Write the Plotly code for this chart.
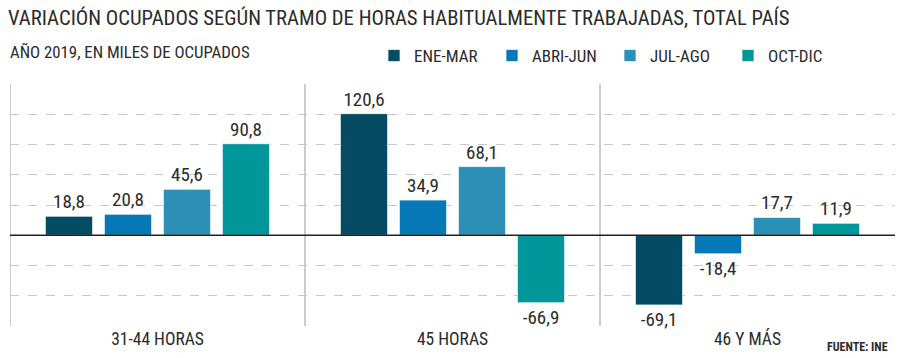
import plotly.graph_objects as go

categories = ["31-44 HORAS", "45 HORAS", "46 Y MÁS"]
series_names = ["ENE-MAR", "ABRI-JUN", "JUL-AGO", "OCT-DIC"]
ene_mar = [18.8, 120.6, -69.1]
abri_jun = [20.8, 34.9, -18.4]
jul_ago = [45.6, 68.1, 17.7]
oct_dic = [90.8, -66.9, 11.9]
colors = ["#034c63", "#0678b6", "#2b8fb6", "#01979a"]

FONT = "Roboto Condensed, Liberation Sans Narrow, Roboto, sans-serif"
TXT = "#2b2b2b"

W, H = 900, 358
L, R, T, B = 10, 5, 84, 32
PW, PH = W - L - R, H - T - B

def px_x(x):
    return (x - L) / PW

def px_y(y):
    return (H - B - y) / PH

fig = go.Figure()
for name, vals, col in zip(series_names, [ene_mar, abri_jun, jul_ago, oct_dic], colors):
    fig.add_trace(go.Bar(
        x=categories, y=vals, name=name,
        marker=dict(color=col, line=dict(color="rgba(255,255,255,0.7)", width=1)),
        text=[f"{v:.1f}".replace(".", ",") for v in vals],
        textposition="outside", cliponaxis=False,
        textfont=dict(family=FONT, size=19, color=TXT),
    ))

shapes = []
for xv in [-0.5, 0.5, 1.5]:
    shapes.append(dict(type="line", xref="x", yref="y", x0=xv, x1=xv, y0=-90, y1=150,
                       line=dict(color="#a8a8a8", width=1.2), layer="below"))
shapes.append(dict(type="line", xref="paper", yref="y", x0=0, x1=1, y0=0, y1=0,
                   line=dict(color="#222222", width=1.5)))

fig.update_layout(
    width=W, height=H,
    margin=dict(l=L, r=R, t=T, b=B, autoexpand=False),
    paper_bgcolor="white", plot_bgcolor="white",
    barmode="group", bargap=0.2, bargroupgap=0.2,
    font=dict(family=FONT, color=TXT),
    title=dict(text="VARIACIÓN OCUPADOS SEGÚN TRAMO DE HORAS HABITUALMENTE TRABAJADAS, TOTAL PAÍS",
               xref="container", yref="container", x=8 / W, xanchor="left",
               y=1 - 18 / H, yanchor="middle",
               font=dict(family=FONT, size=20.7, color=TXT)),
    showlegend=True,
    legend=dict(orientation="h", x=px_x(374), xanchor="left",
                y=px_y(56), yanchor="middle",
                entrywidth=73, entrywidthmode="pixels",
                font=dict(family=FONT, size=17, color=TXT),
                bgcolor="rgba(0,0,0,0)", itemclick=False, traceorder="normal"),
    xaxis=dict(showgrid=False, showline=False, ticks="", range=[-0.5, 2.5],
               tickfont=dict(family=FONT, size=17.5, color=TXT)),
    yaxis=dict(range=[-90, 150], dtick=30, showgrid=True, gridcolor="#c8c8c8",
               griddash="dash", gridwidth=1, showticklabels=False, zeroline=False,
               showline=False),
    shapes=shapes,
    annotations=[
        dict(text="AÑO 2019, EN MILES DE OCUPADOS", xref="paper", yref="paper",
             x=px_x(8), xanchor="left", y=px_y(52), yanchor="middle", showarrow=False,
             font=dict(family=FONT, size=16.8, color=TXT)),
        dict(text="<b>FUENTE: INE</b>", xref="paper", yref="paper",
             x=px_x(890), xanchor="right", y=px_y(347), yanchor="middle",
             showarrow=False, font=dict(family=FONT, size=12, color=TXT)),
    ],
)

fig.write_html("out.html", config={"displayModeBar": False},
               post_script="document.body.style.margin='0px';")
